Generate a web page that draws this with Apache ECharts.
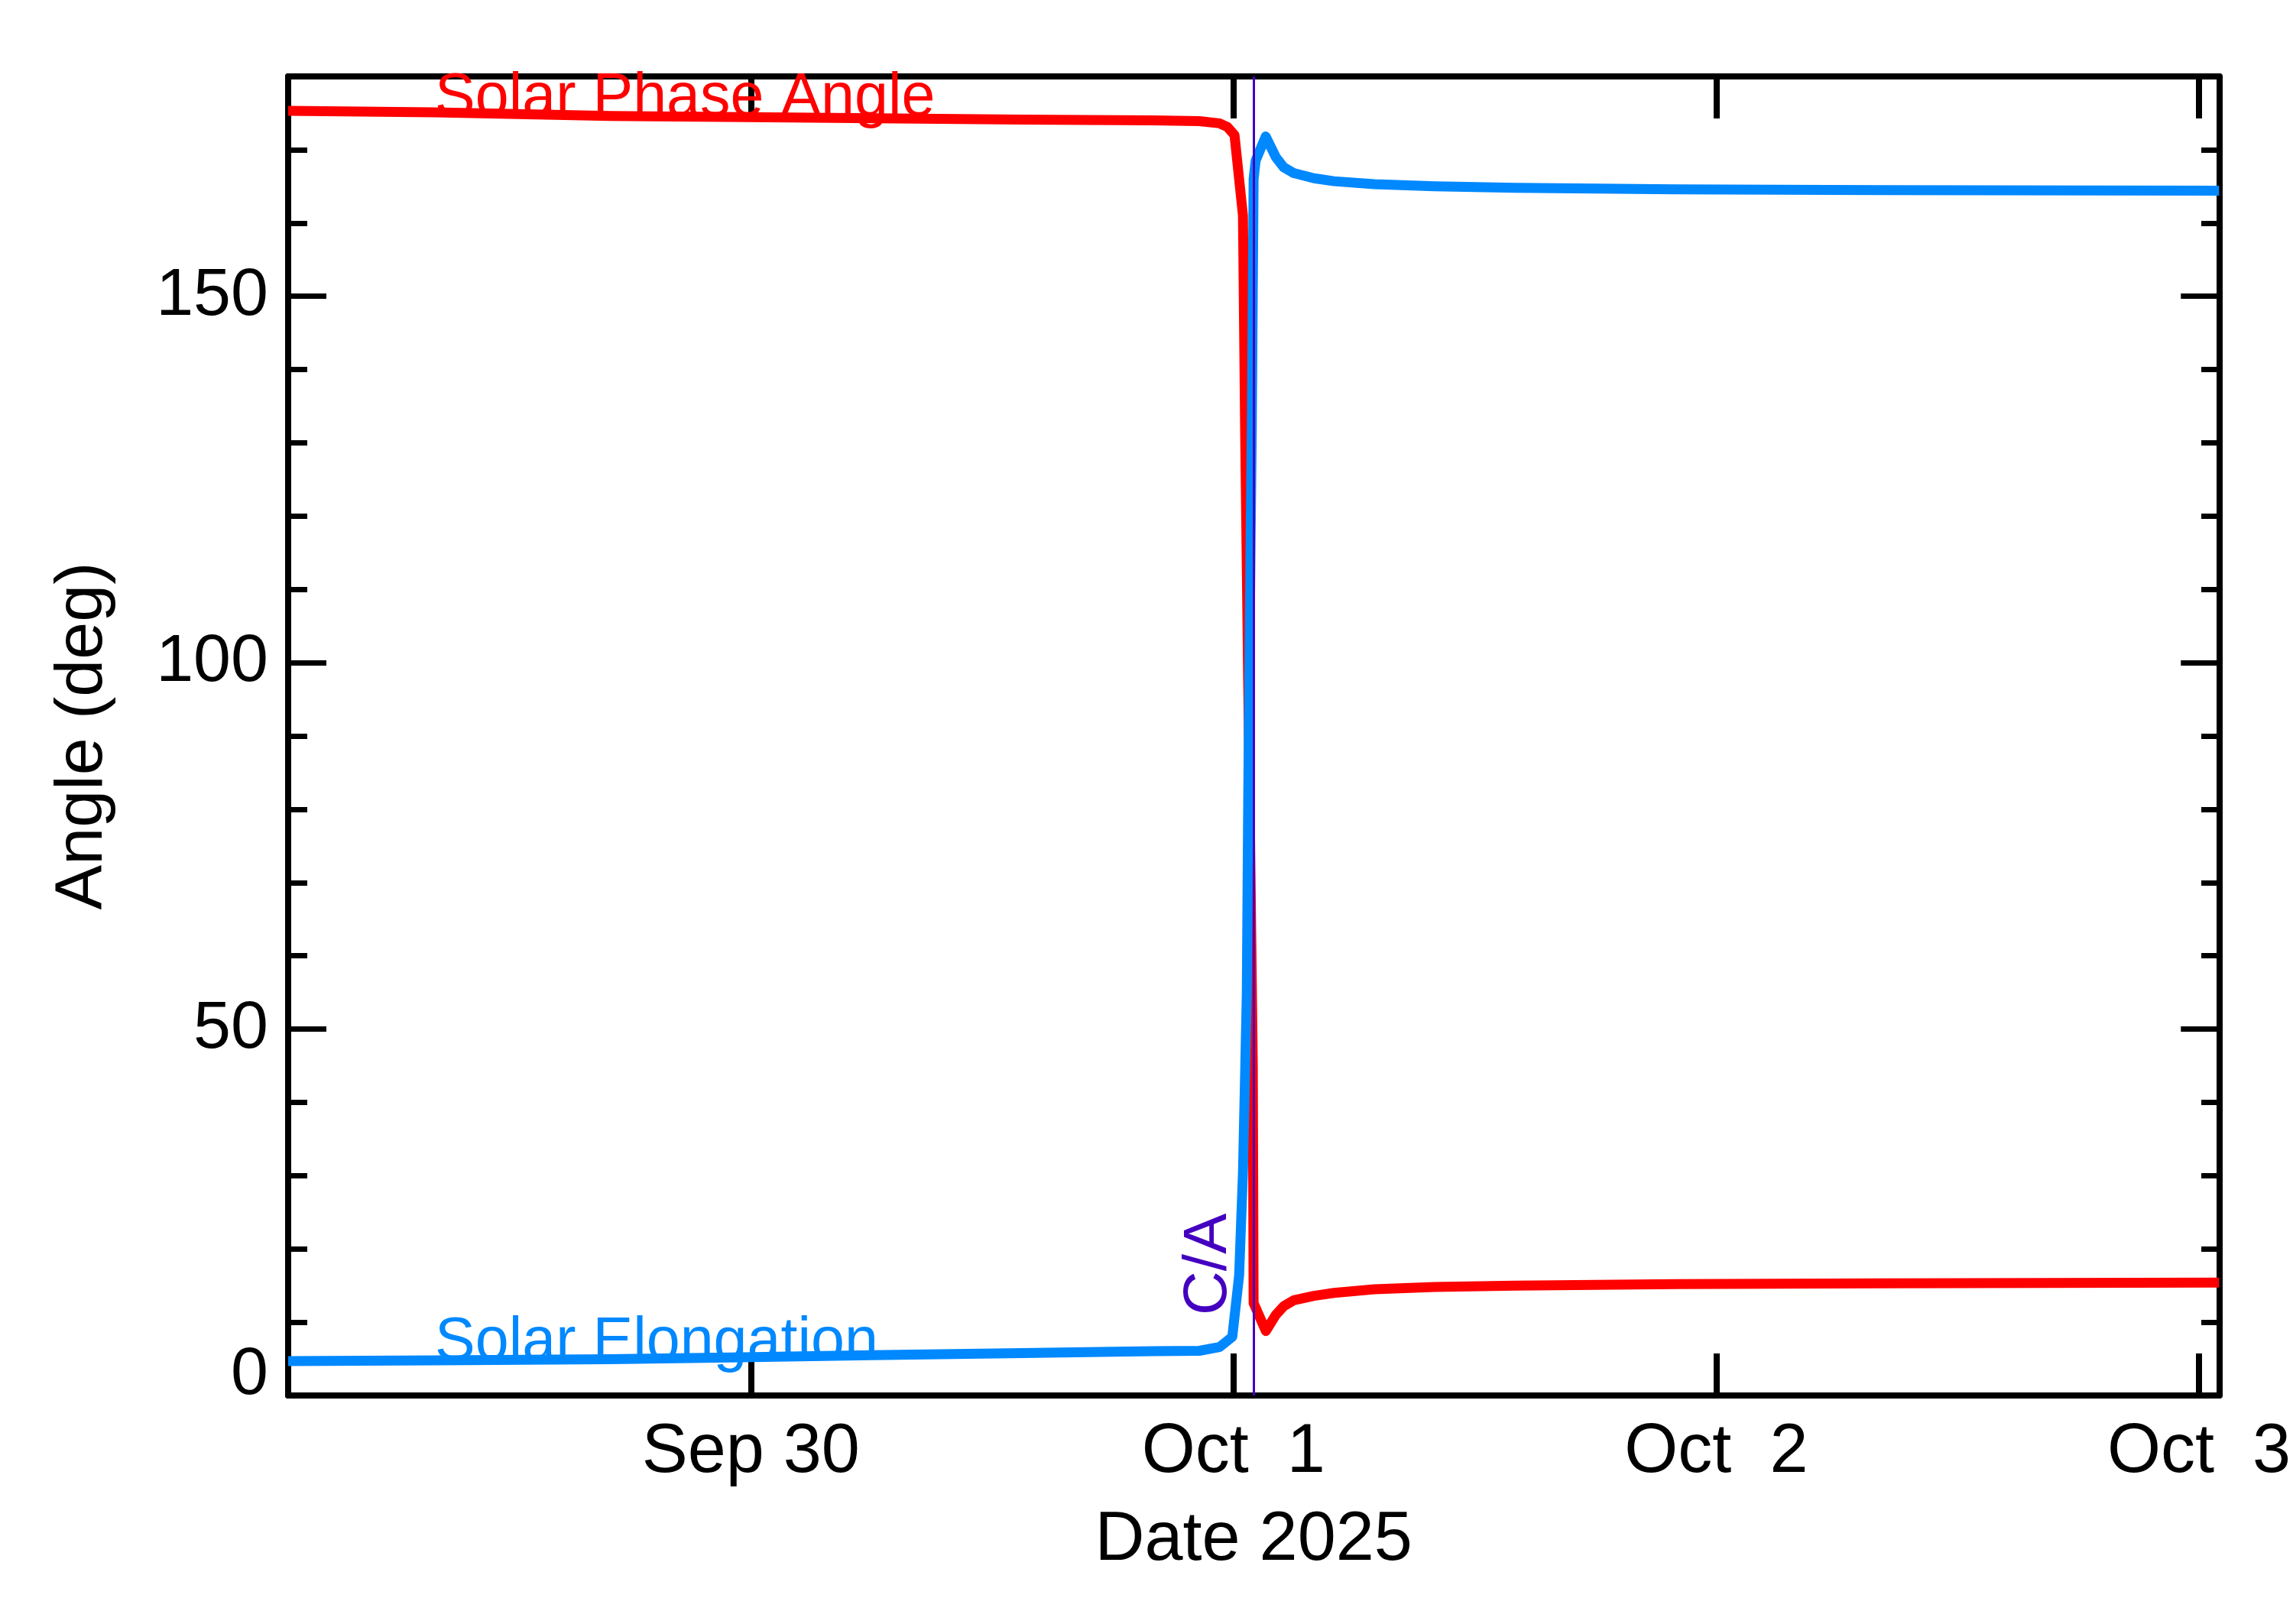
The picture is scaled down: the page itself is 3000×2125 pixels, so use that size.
<!DOCTYPE html>
<html>
<head>
<meta charset="utf-8">
<script src="https://cdn.jsdelivr.net/npm/echarts@6/dist/echarts.min.js"></script>
<style>
  html, body { margin: 0; padding: 0; background: #fff; }
  #chart { width: 3000px; height: 2125px; }
</style>
</head>
<body>
<div id="chart"></div>
<script>
// hours counted from 2025-09-29 00:00
var phaseHours = [1, 8.3, 17, 26, 37.5, 44, 46.3, 47.3, 47.7, 48.05, 48.47, 48.58, 48.75, 48.96, 49.0,
  49.61, 50.1, 50.5, 51, 52, 53, 55, 58, 62, 70, 80, 97];
var phaseDeg = [175.3, 175.1, 174.6, 174.4, 174.1, 174.0, 173.9, 173.6, 173.1, 172.0, 161.0, 131.0, 93.0, 45.0, 12.6,
  8.8, 11.0, 12.2, 13.0, 13.6, 14.0, 14.5, 14.8, 15.0, 15.2, 15.3, 15.4];

var elongHours = [1, 8.5, 17, 23, 30, 37.5, 44, 46.3, 47.3, 47.94, 48.28, 48.47, 48.58, 48.66, 48.73, 48.85, 48.91,
  49.0, 49.1, 49.6, 50.1, 50.5, 51, 52, 53, 55, 58, 62, 70, 80, 97];
var elongDeg = [4.7, 4.8, 4.95, 5.2, 5.5, 5.8, 6.05, 6.1, 6.6, 8.0, 16.4, 30.4, 44.3, 54.8, 81, 117, 132,
  166, 168.5, 171.8, 169.0, 167.6, 166.8, 166.1, 165.7, 165.3, 165.0, 164.8, 164.6, 164.5, 164.4];

var closeApproachHour = 49.0;

var dateTicks = [24, 48, 72, 96];
var dateLabels = ['Sep 30', 'Oct  1', 'Oct  2', 'Oct  3'];
var angleTicks = [0, 50, 100, 150];

var FONT = "'Liberation Sans', Arial, Helvetica, sans-serif";

function pairs(xs, ys) {
  var out = [];
  for (var i = 0; i < xs.length; i++) out.push([xs[i], ys[i]]);
  return out;
}

var dom = document.getElementById('chart');
var myChart = echarts.init(dom, null, { renderer: 'canvas' });

var frame = { show: true, onZero: false, lineStyle: { color: '#000', width: 8 } };
var gridBox = { left: 377, right: 95, top: 100, bottom: 299, containLabel: false };

var option = {
  backgroundColor: '#fff',
  animation: false,
  grid: [gridBox, gridBox],
  xAxis: [
    {
      type: 'value', gridIndex: 0, position: 'bottom', min: 1, max: 97,
      axisLine: frame,
      axisTick: { show: true, inside: true, length: 55, customValues: dateTicks, lineStyle: { color: '#000', width: 8 } },
      axisLabel: {
        customValues: dateTicks, margin: 30, color: '#000', fontSize: 90, fontFamily: FONT,
        formatter: function (v) { return dateLabels[dateTicks.indexOf(v)]; }
      },
      splitLine: { show: false },
      name: 'Date 2025', nameLocation: 'middle', nameGap: 145,
      nameTextStyle: { color: '#000', fontSize: 90, fontFamily: FONT }
    },
    {
      type: 'value', gridIndex: 0, position: 'top', min: 1, max: 97,
      axisLine: frame,
      axisTick: { show: true, inside: true, length: 55, customValues: dateTicks, lineStyle: { color: '#000', width: 8 } },
      axisLabel: { show: false },
      splitLine: { show: false }
    },
    { type: 'value', gridIndex: 1, min: 1, max: 97, show: false }
  ],
  yAxis: [
    {
      type: 'value', gridIndex: 0, position: 'left', min: 0, max: 180, interval: 50,
      axisLine: frame,
      axisTick: { show: true, inside: true, length: 50, customValues: angleTicks, lineStyle: { color: '#000', width: 7 } },
      axisLabel: {
        customValues: angleTicks, margin: 26, color: '#000', fontSize: 88, fontFamily: FONT,
        formatter: function (v) { return v === 0 ? '{z|0}' : String(v); },
        rich: { z: { fontSize: 88, fontFamily: FONT, color: '#000', padding: [0, 0, 52, 0] } }
      },
      splitLine: { show: false },
      name: 'Angle (deg)', nameLocation: 'middle', nameGap: 224, nameRotate: 90,
      nameTextStyle: { color: '#000', fontSize: 88, fontFamily: FONT }
    },
    {
      type: 'value', gridIndex: 0, position: 'right', min: 0, max: 180, interval: 50,
      axisLine: frame,
      axisTick: { show: true, inside: true, length: 50, customValues: angleTicks, lineStyle: { color: '#000', width: 7 } },
      axisLabel: { show: false },
      splitLine: { show: false }
    },
    {
      type: 'value', gridIndex: 1, position: 'left', min: 0, max: 180, interval: 10,
      axisLine: { show: false, onZero: false },
      axisTick: { show: true, inside: true, length: 25, lineStyle: { color: '#000', width: 7 } },
      axisLabel: { show: false },
      splitLine: { show: false }
    },
    {
      type: 'value', gridIndex: 1, position: 'right', min: 0, max: 180, interval: 10,
      axisLine: { show: false, onZero: false },
      axisTick: { show: true, inside: true, length: 25, lineStyle: { color: '#000', width: 7 } },
      axisLabel: { show: false },
      splitLine: { show: false }
    }
  ],
  series: [
    {
      name: 'Solar Phase Angle', type: 'line', xAxisIndex: 0, yAxisIndex: 0,
      data: pairs(phaseHours, phaseDeg),
      showSymbol: false, symbol: 'none', smooth: false,
      lineStyle: { color: '#ff0000', width: 13, join: 'round' },
      z: 2
    },
    {
      name: 'Solar Elongation', type: 'line', xAxisIndex: 0, yAxisIndex: 0,
      data: pairs(elongHours, elongDeg),
      showSymbol: false, symbol: 'none', smooth: false,
      lineStyle: { color: '#0088ff', width: 13, join: 'round' },
      z: 3,
      markLine: {
        silent: true, symbol: 'none', z: 5,
        label: { show: false },
        lineStyle: { color: '#4400c0', width: 3, type: 'solid' },
        data: [{ xAxis: closeApproachHour }]
      }
    }
  ]
};

myChart.setOption(option, true);

// text annotations anchored in data space
function px(h, v) {
  return myChart.convertToPixel({ xAxisIndex: 0, yAxisIndex: 0 }, [h, v]);
}
var pPhase = px(8.3, 177.0);
var pElong = px(8.3, 7.2);
var pCA = px(46.77, 17.9);

myChart.setOption({
  graphic: [
    {
      type: 'text', x: pPhase[0], y: pPhase[1], z: 10,
      style: { text: 'Solar Phase Angle', fill: '#ff0000', font: '79px ' + FONT, textAlign: 'left', textVerticalAlign: 'middle' }
    },
    {
      type: 'text', x: pElong[0], y: pElong[1], z: 10,
      style: { text: 'Solar Elongation', fill: '#0088ff', font: '79px ' + FONT, textAlign: 'left', textVerticalAlign: 'middle' }
    },
    {
      type: 'text', x: pCA[0], y: pCA[1], rotation: Math.PI / 2, z: 10,
      style: { text: 'C/A', fill: '#4400c0', font: '80px ' + FONT, textAlign: 'center', textVerticalAlign: 'middle' }
    }
  ]
});
</script>
</body>
</html>
